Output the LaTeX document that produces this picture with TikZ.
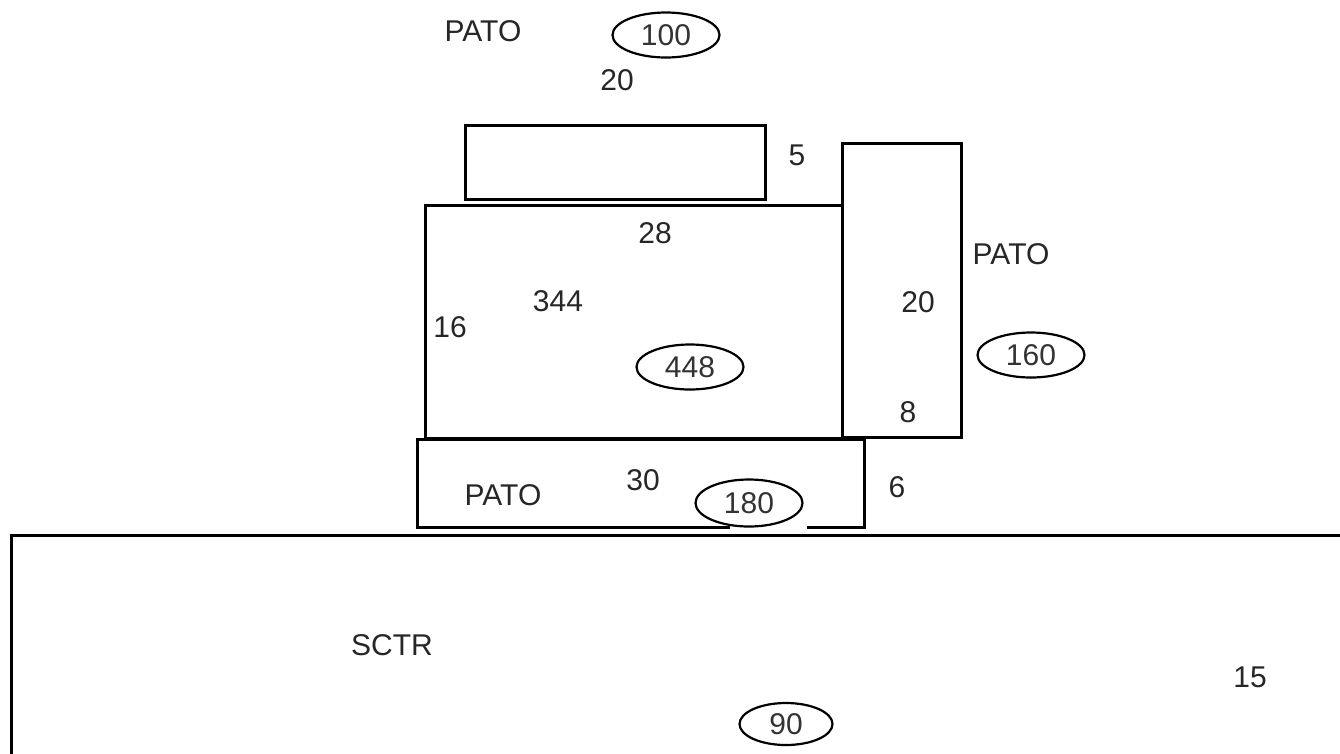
\documentclass[tikz,border=0pt]{standalone}
\usepackage{fontspec}
\setmainfont{Liberation Sans}
\usetikzlibrary{shapes.geometric}
\tikzset{
  box/.style={draw=black, line width=3pt},
  lbl/.style={font=\fontsize{30}{32}\selectfont, text=black!85, inner sep=0pt},
  oval/.style={ellipse, draw=black, line width=2.2pt, minimum width=107pt, minimum height=45pt, inner sep=0pt, font=\fontsize{30}{32}\selectfont, text=black!80}
}
\begin{document}
\begin{tikzpicture}[x=1pt, y=-1pt]
\useasboundingbox (0,0) rectangle (1340,753);
\clip (0,0) rectangle (1340,753);
% boxes
\draw[box] (465,125) rectangle (765,199);
\draw[box] (425,205) rectangle (842,438);
\draw[box] (842,143) rectangle (961,437);
\draw[box] (730,527) -- (417,527) -- (417,439) -- (864,439) -- (864,527) -- (807,527);
\draw[box] (1350,535) -- (11,535) -- (11,770);
% labels
\node[lbl] (pato1) at (483,31) {PATO};
\node[oval] (e100) at (666,35) {100};
\node[lbl] (t20a) at (617,80) {20};
\node[lbl] (t5) at (797,155) {5};
\node[lbl] (t28) at (655,233) {28};
\node[lbl] (t344) at (558,301) {344};
\node[lbl] (t16) at (450,327) {16};
\node[oval] (e448) at (690,367) {448};
\node[lbl] (pato2) at (1011,254) {PATO};
\node[lbl] (t20b) at (918,302) {20};
\node[oval] (e160) at (1031,355) {160};
\node[lbl] (t8) at (908,412) {8};
\node[lbl] (pato3) at (503,495) {PATO};
\node[lbl] (t30) at (643,480) {30};
\node[oval, minimum height=47pt] (e180) at (749,503) {180};
\node[lbl] (t6) at (897,487) {6};
\node[lbl] (sctr) at (392,645) {SCTR};
\node[lbl] (t15) at (1250,677) {15};
\node[oval, minimum width=93pt, minimum height=42pt] (e90) at (786,724) {90};
\end{tikzpicture}
\end{document}
